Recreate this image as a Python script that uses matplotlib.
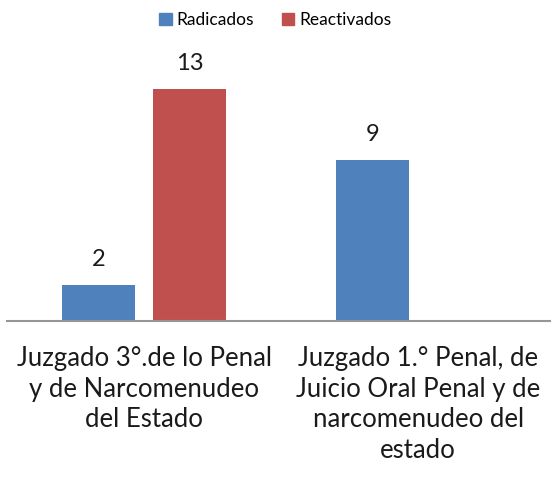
import numpy as np
import matplotlib
matplotlib.use('Agg')
import matplotlib.pyplot as plt
from matplotlib.patches import Patch

plt.rcParams['font.family'] = ['Lato', 'DejaVu Sans']

categories = ['Juzgado 3°.de lo Penal\ny de Narcomenudeo\ndel Estado',
              'Juzgado 1.° Penal, de\nJuicio Oral Penal y de\nnarcomenudeo del\nestado']
radicados = [2, 9]
reactivados = [13, None]

blue = '#4F81BD'
red = '#C0504D'

fig = plt.figure(figsize=(5.51, 4.78), dpi=100)
ax = fig.add_axes([7 / 551, 157 / 478, 544 / 551, 250 / 478])

x = np.arange(len(categories))
w = 0.266
off = 0.167

for i in range(len(categories)):
    if radicados[i] is not None:
        ax.bar(x[i] - off, radicados[i], w, color=blue)
        ax.text(x[i] - off, radicados[i] + 0.85, str(radicados[i]),
                ha='center', va='bottom', fontsize=17, color='#1a1a1a')
    if reactivados[i] is not None:
        ax.bar(x[i] + off, reactivados[i], w, color=red)
        ax.text(x[i] + off, reactivados[i] + 0.85, str(reactivados[i]),
                ha='center', va='bottom', fontsize=17, color='#1a1a1a')

ax.set_xlim(-0.5, 1.485)
ax.set_ylim(0, 14)
for s in ['top', 'right', 'left']:
    ax.spines[s].set_visible(False)
ax.spines['bottom'].set_color('#969696')
ax.spines['bottom'].set_linewidth(1.5)
ax.set_yticks([])
ax.set_xticks(x)
ax.set_xticklabels(categories, fontsize=18.5, color='#1a1a1a', linespacing=1.28, va='top')
ax.tick_params(axis='x', length=0, pad=18)

handles = [Patch(color=blue, label='Radicados'), Patch(color=red, label='Reactivados')]
fig.legend(handles=handles, loc='center', bbox_to_anchor=(0.5, 1 - 20 / 478), ncol=2,
           frameon=False, fontsize=12.5, handlelength=0.7, handleheight=0.7,
           handletextpad=0.3, columnspacing=1.6)

fig.savefig('out.png', dpi=100)
